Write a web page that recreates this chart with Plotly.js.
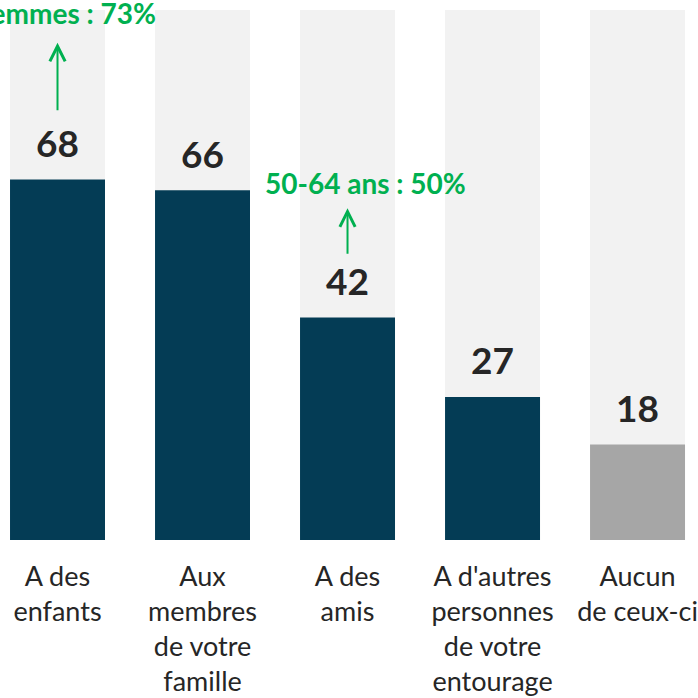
<!DOCTYPE html>
<html>
<head>
<meta charset="utf-8">
<script src="https://cdn.plot.ly/plotly-3.0.1.min.js"></script>
<style>html,body{margin:0;padding:0;background:#fff;overflow:hidden;}#chart{width:698px;height:698px;}</style>
</head>
<body>
<div id="chart"></div>
<script>
const categories = ["A des enfants", "Aux membres de votre famille", "A des amis", "A d'autres personnes de votre entourage", "Aucun de ceux-ci"];
const tickLabels = ["A des<br>enfants", "Aux<br>membres<br>de votre<br>famille", "A des<br>amis", "A d'autres<br>personnes<br>de votre<br>entourage", "Aucun<br>de ceux-ci"];
const values = [68, 66, 42, 27, 18];
const fullScale = [100, 100, 100, 100, 100];
const barColors = ["#043c55", "#043c55", "#043c55", "#043c55", "#a6a6a6"];
const highlightCats = ["A des enfants", "A des amis"];
const highlightTexts = ["Femmes : 73%", "50-64 ans : 50%"];

const FONT = "Lato, 'Open Sans', sans-serif";

const traces = [
  {type: "bar", x: categories, y: fullScale, width: 0.655, marker: {color: "#f2f2f2"}, hoverinfo: "skip", showlegend: false},
  {type: "bar", x: categories, y: values, width: 0.655, marker: {color: barColors}, showlegend: false}
];

const annotations = [];
values.forEach((v, i) => {
  annotations.push({x: categories[i], y: v, xref: "x", yref: "y", text: "<b>" + v + "</b>", showarrow: false,
    yshift: 37, yanchor: "middle", xanchor: "center", font: {family: FONT, size: 37, color: "#262626"}});
});
// highlight 1 : above first bar
annotations.push({x: highlightCats[0], y: 93.8, xref: "x", yref: "y", ax: 0, ay: 69, text: "", showarrow: true,
  arrowhead: 5, arrowsize: 1.5, arrowwidth: 2, arrowcolor: "#00b050", standoff: 0});
annotations.push({x: highlightCats[0], y: 99.4, xref: "x", yref: "y", text: "<b>" + highlightTexts[0] + "</b>", showarrow: false,
  xanchor: "right", xshift: 100, yanchor: "middle", font: {family: FONT, size: 28, color: "#00b050"}});
// highlight 2 : above third bar
annotations.push({x: highlightCats[1], y: 62.6, xref: "x", yref: "y", ax: 0, ay: 47, text: "", showarrow: true,
  arrowhead: 5, arrowsize: 1.5, arrowwidth: 2, arrowcolor: "#00b050", standoff: 0});
annotations.push({x: highlightCats[1], y: 67.4, xref: "x", yref: "y", text: "<b>" + highlightTexts[1] + "</b>", showarrow: false,
  xanchor: "center", xshift: 18, yanchor: "middle", font: {family: FONT, size: 28, color: "#00b050"}});

const layout = {
  width: 698, height: 698,
  margin: {l: 0, r: 0, t: 10, b: 158, pad: 0},
  paper_bgcolor: "#ffffff", plot_bgcolor: "#ffffff",
  barmode: "overlay",
  xaxis: {type: "category", range: [-0.3966, 4.417], tickvals: categories, ticktext: tickLabels, showgrid: false, zeroline: false, showline: false, ticks: "",
    tickfont: {family: FONT, size: 27, color: "#262626"}, ticklabelstandoff: 18, fixedrange: true},
  yaxis: {range: [0, 100], visible: false, showgrid: false, zeroline: false, fixedrange: true},
  annotations: annotations,
  font: {family: FONT}
};

Plotly.newPlot("chart", traces, layout, {displayModeBar: false, staticPlot: true});
</script>
</body>
</html>
